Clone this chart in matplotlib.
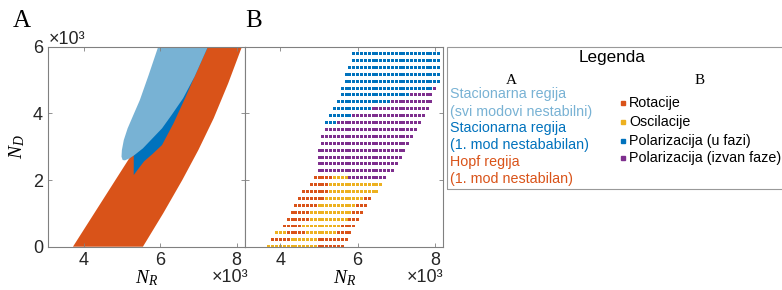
import matplotlib
matplotlib.use("Agg")
import matplotlib.pyplot as plt
from matplotlib.lines import Line2D
from matplotlib.patches import Rectangle

plt.rcParams['font.family'] = ['Liberation Sans', 'DejaVu Sans']
plt.rcParams['mathtext.fontset'] = 'custom'
plt.rcParams['mathtext.it'] = 'Liberation Serif:italic'
plt.rcParams['mathtext.rm'] = 'Liberation Serif'

# boje (MATLAB paleta)
c_orange = '#D95319'
c_yellow = '#EDB120'
c_blue = '#0072BD'
c_purple = '#7E2F8E'
c_light = '#78B2D4'

# --- panel A: granice regija (N_R, N_D) ---
hopf_nr = [3720, 5550, 6080, 6580, 7000, 7400, 7780, 8140, 7050, 5220]
hopf_nd = [0, 0, 1000, 2000, 2900, 3850, 4900, 6000, 6000, 2700]

stac1_nr = [5310, 5420, 5580, 5800, 6050, 6350, 6650, 6900, 7250, 6000, 5310]
stac1_nd = [2150, 2320, 2560, 2780, 3050, 3700, 4450, 5100, 6000, 6000, 2750]

stacall_nr = [5950, 7250, 6900, 6600, 6300, 6050, 5800, 5550, 5330, 5200, 5080,
              5020, 4990, 5000, 5050, 5150, 5300, 5470, 5700]
stacall_nd = [6000, 6000, 5100, 4450, 3950, 3550, 3250, 2950, 2750, 2650, 2590,
              2600, 2700, 2900, 3200, 3550, 3950, 4400, 5150]

# --- panel B: mreza simulacija ---
nd_rows = [0, 207, 414, 621, 828, 1034, 1241, 1448, 1655, 1862, 2069, 2276, 2483,
           2690, 2897, 3103, 3310, 3517, 3724, 3931, 4138, 4345, 4552, 4759, 4966,
           5172, 5379, 5586, 5793, 6000]
row_start = [3700, 3800, 3900, 4100, 4200, 4300, 4400, 4500, 4600, 4800, 4900,
             5000, 5000, 5000, 5000, 5100, 5100, 5200, 5200, 5300, 5400, 5500,
             5600, 5600, 5700, 5700, 5800, 5900, 5900, 6000]
# O=rotacije, Y=oscilacije, B=polarizacija u fazi, P=izvan faze
row_runs = [
    "Y13 O7", "O5 Y7 O8", "Y3 O5 Y8 O4", "O5 Y10 O4", "O6 Y10 O3",
    "O5 Y11 O3", "O6 Y10 O3", "O7 Y10 O2", "O7 Y13", "O5 Y14",
    "O5 Y4 P10", "P20", "P21", "P22", "P23",
    "P23", "P24", "P24", "B3 P22", "B6 P19",
    "B10 P15", "B14 P11", "B18 P6", "B24 P1", "B25",
    "B25", "B24", "B23", "B23", "B22",
]
nr_step = 100
cat_colors = {'O': c_orange, 'Y': c_yellow, 'B': c_blue, 'P': c_purple}

fig = plt.figure(figsize=(7.82, 2.90), dpi=100)
axA = fig.add_axes([0.0620, 0.1493, 0.2513, 0.6897])
axB = fig.add_axes([0.3133, 0.1493, 0.2536, 0.6897])

axA.fill(hopf_nr, hopf_nd, color=c_orange, lw=0)
axA.fill(stac1_nr, stac1_nd, color=c_blue, lw=0)
axA.fill(stacall_nr, stacall_nd, color=c_light, lw=0)

xs, ys, cs = [], [], []
for nd, start, runs in zip(nd_rows, row_start, row_runs):
    i = 0
    for run in runs.split():
        code, n = run[0], int(run[1:])
        for k in range(n):
            xs.append(start + nr_step * i)
            ys.append(nd)
            cs.append(cat_colors[code])
            i += 1
axB.scatter(xs, ys, c=cs, marker='s', s=4.6, linewidths=0, antialiased=False)

for ax in (axA, axB):
    ax.set_xlim(3080, 8220)
    ax.set_ylim(0, 6000)
    ax.set_xticks([4000, 6000, 8000])
    ax.set_xticklabels(['4', '6', '8'])
    ax.set_yticks([0, 2000, 4000, 6000])
    ax.tick_params(direction='in', length=3, width=0.6, color='#808080',
                   labelsize=13, labelcolor='#262626', top=True, right=True, pad=4)
    for sp in ax.spines.values():
        sp.set_color('#808080')
        sp.set_linewidth(0.8)
    ax.set_xlabel('$N_R$', fontsize=14, labelpad=-1)

axA.set_yticklabels(['0', '2', '4', '6'])
axB.set_yticklabels([])
axA.set_ylabel('$N_D$', fontsize=14, labelpad=4)

fig.text(0.0627, 0.8655, '×10³', fontsize=13, color='#262626', ha='left', va='center')
fig.text(0.317, 0.043, '×10³', fontsize=13, color='#262626', ha='right', va='center')
fig.text(0.5668, 0.044, '×10³', fontsize=13, color='#262626', ha='right', va='center')

fig.text(0.028, 0.926, 'A', fontsize=18, family='Liberation Serif', ha='center', va='center')
fig.text(0.324, 0.926, 'B', fontsize=18, family='Liberation Serif', ha='center', va='center')

# legenda
fig.add_artist(Rectangle((0.5712, 0.347), 0.45, 0.49, transform=fig.transFigure,
                         fill=False, edgecolor='#999999', lw=0.8))
fig.text(0.7822, 0.8024, 'Legenda', fontsize=12.3, ha='center', va='center')
fig.text(0.6543, 0.724, 'A', fontsize=11, family='Liberation Serif', ha='center', va='center')
fig.text(0.8951, 0.724, 'B', fontsize=11, family='Liberation Serif', ha='center', va='center')

leg_a_text = ['Stacionarna regija', '(svi modovi nestabilni)',
              'Stacionarna regija', '(1. mod nestababilan)',
              'Hopf regija', '(1. mod nestabilan)']
leg_a_col = [c_light, c_light, c_blue, c_blue, c_orange, c_orange]
leg_a_y = [0.6759, 0.6148, 0.5576, 0.5000, 0.4403, 0.3817]
for t, c, y in zip(leg_a_text, leg_a_col, leg_a_y):
    fig.text(0.5754, y, t, fontsize=10.3, color=c, ha='left', va='center')

leg_b_text = ['Rotacije', 'Oscilacije', 'Polarizacija (u fazi)', 'Polarizacija (izvan faze)']
leg_b_col = [c_orange, c_yellow, c_blue, c_purple]
leg_b_y = [0.6437, 0.5803, 0.5148, 0.4541]
for t, c, y in zip(leg_b_text, leg_b_col, leg_b_y):
    fig.add_artist(Line2D([0.7963], [y], marker='s', markersize=2.6, color=c, lw=0,
                          transform=fig.transFigure))
    fig.text(0.8047, y, t, fontsize=10.3, color='black', ha='left', va='center')

fig.savefig('out.png', dpi=100)
